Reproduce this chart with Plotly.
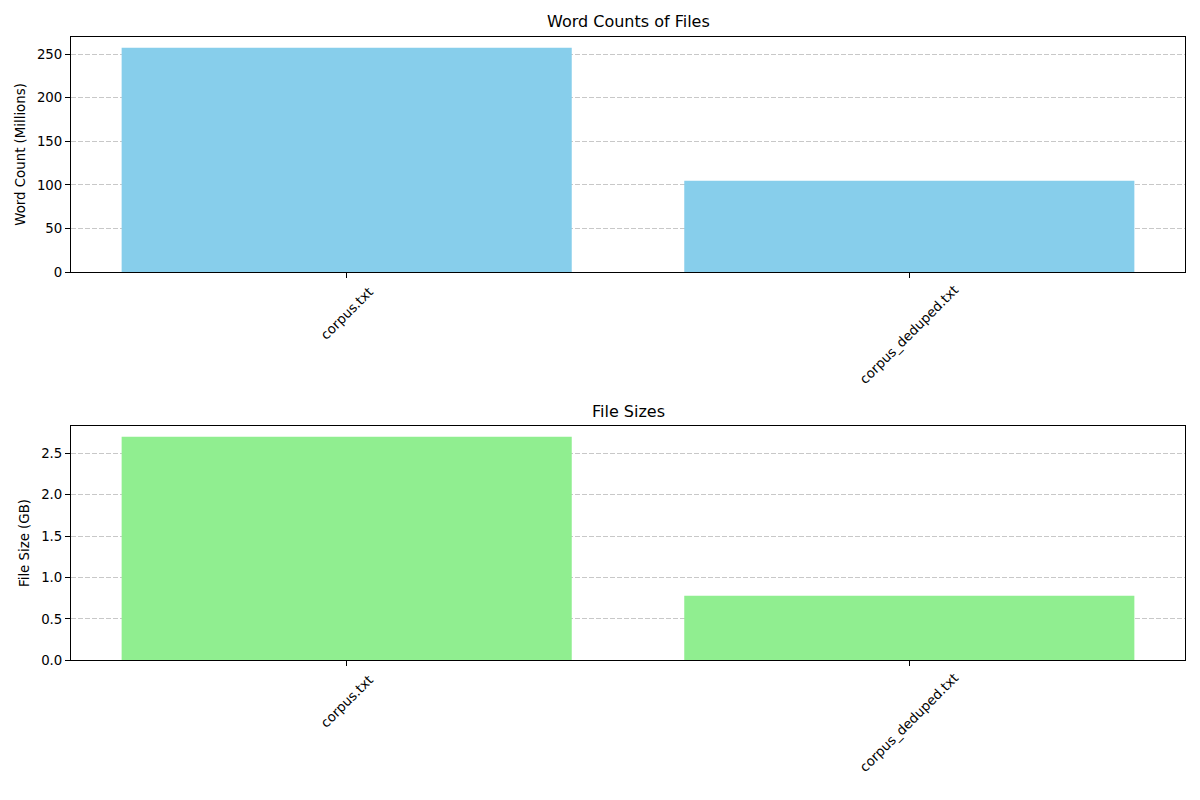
import plotly.graph_objects as go

files = ["corpus.txt", "corpus_deduped.txt"]
word_counts_millions = [257.1, 104.7]
file_sizes_gb = [2.70, 0.78]

FONT = "DejaVu Sans"
FS = 13.33
W, H = 1200, 800

def px_x(p):
    return p / W

def px_y(p):
    return 1 - p / H

fig = go.Figure()
xs = list(range(len(files)))
fig.add_trace(go.Bar(x=xs, y=word_counts_millions, marker=dict(color="#87CEEB", line=dict(width=0)),
                     width=0.8, xaxis="x", yaxis="y", showlegend=False))
fig.add_trace(go.Bar(x=xs, y=file_sizes_gb, marker=dict(color="#90EE90", line=dict(width=0)),
                     width=0.8, xaxis="x2", yaxis="y2", showlegend=False))

xdom = [px_x(71), px_x(1185)]
axis_common = dict(showline=True, linecolor="black", linewidth=1, mirror=True,
                   ticks="outside", ticklen=5, tickwidth=1, tickcolor="black",
                   tickfont=dict(family=FONT, size=FS, color="black"), zeroline=False)

def xaxis(anchor):
    return dict(domain=xdom, anchor=anchor, range=[-0.49, 1.49], tickvals=xs,
                ticktext=["" for _ in files], showgrid=False, **axis_common)

def yaxis(anchor, dom, rng, dtick, title, fmt):
    return dict(domain=dom, anchor=anchor, range=rng, dtick=dtick, tick0=0, tickformat=fmt,
                showgrid=True, gridcolor="rgba(176,176,176,0.7)", griddash="5px,2px", gridwidth=1,
                title=dict(text=title, font=dict(family=FONT, size=FS, color="black"), standoff=8),
                **axis_common)

fig.update_layout(
    width=W, height=H, margin=dict(l=0, r=0, t=0, b=0),
    paper_bgcolor="white", plot_bgcolor="white",
    font=dict(family=FONT, size=FS, color="black"),
    xaxis=xaxis("y"),
    yaxis=yaxis("x", [px_y(275), px_y(37)], [0, max(word_counts_millions) * 1.05], 50,
                "Word Count (Millions)", "d"),
    xaxis2=xaxis("y2"),
    yaxis2=yaxis("x2", [px_y(667), px_y(430)], [0, max(file_sizes_gb) * 1.05], 0.5,
                 "File Size (GB)", ".1f"),
)

annotations = []
for ax_x, ax_y in (("x", "y domain"), ("x2", "y2 domain")):
    for i, name in enumerate(files):
        # rotated label centred below its tick
        est_w = len(name) * 7.7
        half = (est_w + 13) / 2 / 1.414
        annotations.append(dict(x=i, y=0, xref=ax_x, yref=ax_y, text=name, showarrow=False,
                                textangle=-45, xanchor="center", yanchor="middle",
                                yshift=-(9 + half), font=dict(family=FONT, size=FS, color="black")))

annotations.append(dict(x=(xdom[0] + xdom[1]) / 2, y=px_y(22), xref="paper", yref="paper",
                        text="Word Counts of Files", showarrow=False, xanchor="center", yanchor="middle",
                        font=dict(family=FONT, size=16, color="black")))
annotations.append(dict(x=(xdom[0] + xdom[1]) / 2, y=px_y(416), xref="paper", yref="paper",
                        text="File Sizes", showarrow=False, xanchor="center", yanchor="middle",
                        font=dict(family=FONT, size=16, color="black")))
fig.update_layout(annotations=annotations)

fig.write_html("out.html",
               post_script="document.body.style.margin='0';document.body.style.overflow='hidden';")
